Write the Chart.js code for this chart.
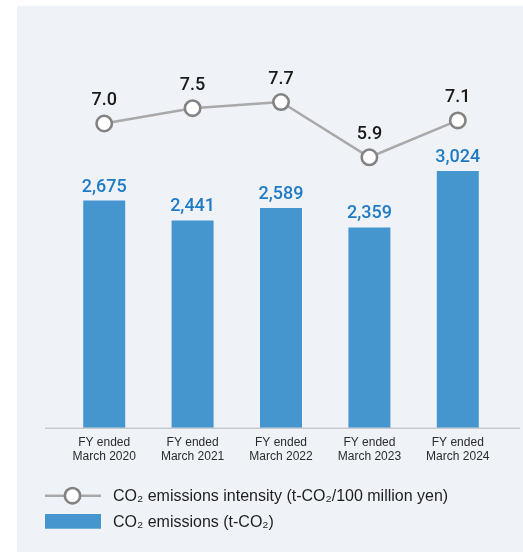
<!DOCTYPE html>
<html>
<head>
<meta charset="utf-8">
<script src="https://cdn.jsdelivr.net/npm/chart.js@4/dist/chart.umd.min.js"></script>
<style>
  html, body { margin: 0; padding: 0; background: #ffffff; }
  canvas { display: block; }
</style>
</head>
<body>
<canvas id="chart" width="523" height="552"></canvas>
<script>
// Fiscal years (two-line axis labels)
const categories = [
  ['FY ended', 'March 2020'],
  ['FY ended', 'March 2021'],
  ['FY ended', 'March 2022'],
  ['FY ended', 'March 2023'],
  ['FY ended', 'March 2024']
];
// CO2 emissions (t-CO2)
const emissions = [2675, 2441, 2589, 2359, 3024];
// CO2 emissions intensity (t-CO2 / 100 million yen)
const intensity = [7.0, 7.5, 7.7, 5.9, 7.1];

const seriesNames = [
  'CO\u2082 emissions intensity (t-CO\u2082/100 million yen)',
  'CO\u2082 emissions (t-CO\u2082)'
];

const BAR_COLOR = '#4596cf';
const BAR_LABEL_COLOR = '#1f7bc3';
const LINE_COLOR = '#a9a9a9';
const POINT_BORDER = '#838383';
const PANEL_COLOR = '#eff2f7';
const NUM_FONT = '500 18px Roboto, "Noto Sans", sans-serif';
const TEXT_FONT = '"Liberation Sans", Arial, Helvetica, sans-serif';

// light panel behind the chart
const panelPlugin = {
  id: 'panel',
  beforeDraw(chart) {
    const ctx = chart.ctx;
    ctx.save();
    ctx.fillStyle = PANEL_COLOR;
    ctx.fillRect(17, 6, chart.width - 17, chart.height - 6);
    ctx.restore();
  }
};

// horizontal base line under the bars
const baselinePlugin = {
  id: 'baseline',
  beforeDatasetsDraw(chart) {
    const ctx = chart.ctx;
    const y = chart.scales.y.getPixelForValue(0);
    ctx.save();
    ctx.strokeStyle = '#c9cacc';
    ctx.lineWidth = 1.5;
    ctx.beginPath();
    ctx.moveTo(45, y + 0.5);
    ctx.lineTo(520, y + 0.5);
    ctx.stroke();
    ctx.restore();
  }
};

// value labels above bars and points
const valueLabelPlugin = {
  id: 'valueLabels',
  afterDatasetsDraw(chart) {
    const ctx = chart.ctx;
    ctx.save();
    ctx.font = NUM_FONT;
    ctx.textAlign = 'center';
    ctx.textBaseline = 'alphabetic';
    chart.data.datasets.forEach((ds, di) => {
      const meta = chart.getDatasetMeta(di);
      meta.data.forEach((el, i) => {
        const v = ds.data[i];
        if (ds.type === 'bar') {
          ctx.fillStyle = BAR_LABEL_COLOR;
          ctx.fillText(v.toLocaleString('en-US'), el.x, el.y - 9);
        } else {
          ctx.fillStyle = '#1a1a1a';
          ctx.fillText(v.toFixed(1), el.x, el.y - 18.5);
        }
      });
    });
    ctx.restore();
  }
};

// legend drawn beneath the axis labels
const legendPlugin = {
  id: 'customLegend',
  afterDraw(chart) {
    const ctx = chart.ctx;
    const lineDs = chart.data.datasets[0];
    const barDs = chart.data.datasets[1];
    ctx.save();
    // line + marker sample
    ctx.strokeStyle = lineDs.borderColor;
    ctx.lineWidth = lineDs.borderWidth;
    ctx.beginPath();
    ctx.moveTo(45, 495.7);
    ctx.lineTo(101, 495.7);
    ctx.stroke();
    ctx.beginPath();
    ctx.arc(72.5, 495.7, lineDs.pointRadius, 0, Math.PI * 2);
    ctx.fillStyle = lineDs.pointBackgroundColor;
    ctx.fill();
    ctx.lineWidth = lineDs.pointBorderWidth;
    ctx.strokeStyle = lineDs.pointBorderColor;
    ctx.stroke();
    // bar sample
    ctx.fillStyle = barDs.backgroundColor;
    ctx.fillRect(45, 514, 56, 14.7);
    // texts
    ctx.fillStyle = '#1e1e1e';
    ctx.font = '16px ' + TEXT_FONT;
    ctx.textAlign = 'left';
    ctx.textBaseline = 'middle';
    ctx.fillText(lineDs.label, 113, 497);
    ctx.fillText(barDs.label, 113, 523);
    ctx.restore();
  }
};

new Chart(document.getElementById('chart'), {
  data: {
    labels: categories,
    datasets: [
      {
        type: 'line',
        label: seriesNames[0],
        data: intensity,
        yAxisID: 'y2',
        order: 0,
        borderColor: LINE_COLOR,
        borderWidth: 2.5,
        pointRadius: 7.7,
        pointHoverRadius: 7.7,
        pointBorderWidth: 2.6,
        pointBorderColor: POINT_BORDER,
        pointBackgroundColor: '#ffffff',
        tension: 0
      },
      {
        type: 'bar',
        label: seriesNames[1],
        data: emissions,
        yAxisID: 'y',
        order: 1,
        backgroundColor: BAR_COLOR,
        barPercentage: 0.475,
        categoryPercentage: 1
      }
    ]
  },
  options: {
    responsive: false,
    animation: false,
    devicePixelRatio: 1,
    layout: { padding: { top: 40, left: 60, right: 21, bottom: 0 } },
    plugins: {
      legend: { display: false },
      tooltip: { enabled: false }
    },
    scales: {
      x: {
        grid: { display: false, drawTicks: false },
        border: { display: false },
        ticks: {
          color: '#2b2b2b',
          font: { family: TEXT_FONT, size: 12, lineHeight: 1.1667 },
          padding: 8,
          maxRotation: 0,
          autoSkip: false
        },
        afterFit(scale) { scale.height = 124.3; }
      },
      y: {
        display: false,
        min: 0,
        max: 4567
      },
      y2: {
        display: false,
        min: -2.909,
        max: 9.72
      }
    }
  },
  plugins: [panelPlugin, baselinePlugin, valueLabelPlugin, legendPlugin]
});
</script>
</body>
</html>
